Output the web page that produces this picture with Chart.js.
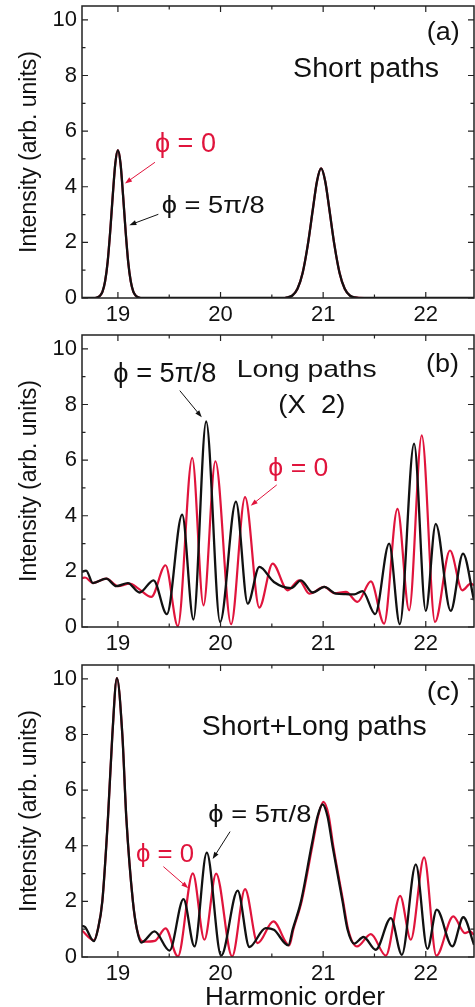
<!DOCTYPE html>
<html>
<head>
<meta charset="utf-8">
<script src="https://cdn.jsdelivr.net/npm/chart.js@4.4.1/dist/chart.umd.min.js"></script>
<style>
  html, body { margin: 0; padding: 0; background: #fff; overflow: hidden; }
  canvas { position: absolute; left: 0; }
</style>
</head>
<body>
<canvas id="panelA" width="475" height="329" style="top:0px"></canvas>
<canvas id="panelB" width="475" height="330" style="top:329px"></canvas>
<canvas id="panelC" width="475" height="348" style="top:659px"></canvas>
<script>
// Axis ranges and tick values (harmonic order / intensity)
const xRange = [18.65, 22.47];
const yRange = [0, 10.5];
const xTicks = [19, 20, 21, 22];
const xMinorTicks = [19.5, 20.5, 21.5];
const yTicks = [0, 2, 4, 6, 8, 10];
const yMinorTicks = [1, 3, 5, 7, 9];

// (a) short paths - both phases coincide
const shortX = [18.65, 18.75, 18.8, 18.825, 18.85, 18.875, 18.9, 18.925, 18.95, 18.975, 19.0, 19.025, 19.05, 19.075, 19.1, 19.125, 19.15, 19.175, 19.2, 19.25,
  20.0, 20.6, 20.65, 20.7, 20.75, 20.8, 20.85, 20.9, 20.94, 20.98, 21.02, 21.06, 21.11, 21.16, 21.21, 21.26, 21.31, 21.4, 22.47];
const shortY = [0, 0, 0.02, 0.08, 0.23, 0.6, 1.3, 2.4, 3.7, 4.85, 5.32, 4.85, 3.7, 2.4, 1.3, 0.6, 0.23, 0.08, 0.02, 0,
  0, 0, 0.02, 0.09, 0.33, 0.9, 1.9, 3.2, 4.2, 4.66, 4.2, 3.2, 1.9, 0.9, 0.33, 0.09, 0.02, 0, 0];

// (b) long paths (x2)
const longBlackX = [18.65, 18.69, 18.757, 18.887, 18.984, 19.097, 19.211, 19.347, 19.477, 19.626, 19.736, 19.86, 19.996, 20.15, 20.265, 20.378, 20.52, 20.687,
  20.784, 20.897, 21.011, 21.124, 21.22, 21.302, 21.383, 21.507, 21.643, 21.747, 21.886, 22.0, 22.097, 22.243, 22.363, 22.47];
const longBlackY = [1.98, 2.03, 1.58, 1.74, 1.47, 1.58, 1.24, 1.68, 0.46, 4.04, 0.27, 7.39, 0.18, 4.51, 0.84, 2.16, 1.62, 1.4,
  1.68, 1.24, 1.44, 1.2, 1.18, 1.17, 1.29, 0.46, 3.0, 0.1, 6.59, 0.58, 3.71, 0.58, 2.64, 0.96];
const longRedX = [18.65, 18.68, 18.757, 18.887, 19.0, 19.114, 19.2, 19.325, 19.464, 19.584, 19.724, 19.834, 19.95, 20.103, 20.239, 20.378, 20.508, 20.654,
  20.767, 20.865, 21.011, 21.108, 21.222, 21.335, 21.465, 21.594, 21.724, 21.838, 21.961, 22.09, 22.236, 22.356, 22.438, 22.47];
const longRedY = [1.76, 1.78, 1.58, 1.74, 1.47, 1.56, 1.38, 1.08, 2.22, 0.03, 6.08, 0.78, 5.96, 0.1, 4.67, 0.7, 2.28, 1.32,
  1.68, 1.2, 1.44, 1.22, 1.26, 0.9, 1.64, 0.12, 4.25, 0.6, 6.89, 0.18, 2.75, 1.32, 1.56, 1.5];

// (c) short + long paths
const mixBlackX = [18.65, 18.68, 18.765, 18.805, 18.848, 18.903, 18.946, 18.99, 19.043, 19.082, 19.146, 19.185, 19.228, 19.357, 19.503, 19.639, 19.746, 19.866,
  20.006, 20.167, 20.281, 20.44, 20.52, 20.66, 20.704, 20.784, 20.887, 20.945, 20.994, 21.043, 21.091, 21.189, 21.237, 21.303, 21.393, 21.513, 21.66, 21.767,
  21.903, 22.016, 22.107, 22.259, 22.366, 22.47];
const mixBlackY = [1.12, 1.08, 0.57, 1.0, 2.0, 5.0, 8.0, 10.03, 8.0, 5.0, 2.0, 1.0, 0.52, 0.92, 0.23, 2.08, 0.38, 3.75,
  0.05, 2.39, 0.36, 1.04, 0.98, 0.42, 1.0, 2.0, 4.0, 5.05, 5.49, 5.05, 4.0, 2.0, 1.0, 0.48, 0.72, 0.26, 1.4, 0.08,
  3.33, 0.29, 1.7, 0.38, 1.43, 0.44];
const mixRedX = [18.65, 18.765, 18.805, 18.848, 18.903, 18.946, 18.99, 19.043, 19.082, 19.146, 19.185, 19.25, 19.36, 19.464, 19.584, 19.73, 19.843, 19.957,
  20.113, 20.239, 20.362, 20.515, 20.67, 20.71, 20.79, 20.895, 20.953, 21.003, 21.053, 21.098, 21.195, 21.243, 21.33, 21.465, 21.611, 21.75, 21.854,
  21.984, 22.103, 22.268, 22.382, 22.43, 22.47];
const mixRedY = [0.95, 0.6, 1.0, 2.0, 5.0, 8.0, 10.03, 8.0, 5.0, 2.0, 1.0, 0.55, 0.58, 1.03, 0.02, 3.01, 0.62, 3.0,
  0.02, 2.44, 0.5, 1.28, 0.42, 1.0, 2.0, 4.0, 5.1, 5.58, 5.1, 4.0, 2.0, 1.0, 0.38, 0.82, 0.05, 2.2, 0.62,
  3.58, 0.05, 1.46, 0.86, 0.92, 0.8];

const RED = '#E0143C';
const INK = '#111111';
const FONT = "'Liberation Sans', Arial, Helvetica, sans-serif";

function pts(xs, ys) {
  return xs.map((x, i) => ({ x: x, y: ys[i] }));
}

// Closed frame with inward ticks on all four sides
const frameTicks = {
  id: 'frameTicks',
  afterDatasetsDraw(chart) {
    const { ctx, chartArea: a, scales: { x, y } } = chart;
    ctx.save();
    ctx.strokeStyle = '#222';
    ctx.lineWidth = 1.5;
    ctx.strokeRect(a.left, a.top, a.right - a.left, a.bottom - a.top);
    ctx.lineWidth = 1.2;
    ctx.beginPath();
    const vTick = (v, len) => {
      const px = x.getPixelForValue(v);
      ctx.moveTo(px, a.bottom); ctx.lineTo(px, a.bottom - len);
      ctx.moveTo(px, a.top); ctx.lineTo(px, a.top + len);
    };
    const hTick = (v, len) => {
      const py = y.getPixelForValue(v);
      ctx.moveTo(a.left, py); ctx.lineTo(a.left + len, py);
      ctx.moveTo(a.right, py); ctx.lineTo(a.right - len, py);
    };
    xTicks.forEach(v => vTick(v, 6));
    xMinorTicks.forEach(v => vTick(v, 3.5));
    yTicks.forEach(v => hTick(v, 6));
    yMinorTicks.forEach(v => hTick(v, 3.5));
    ctx.stroke();
    ctx.restore();
  }
};

// Labels and arrows placed in data coordinates
function notesPlugin(notes) {
  return {
    id: 'notes',
    afterDraw(chart) {
      const { ctx, scales: { x, y } } = chart;
      ctx.save();
      notes.forEach(n => {
        if (n.arrow) {
          const x0 = x.getPixelForValue(n.from[0]), y0 = y.getPixelForValue(n.from[1]);
          const x1 = x.getPixelForValue(n.to[0]), y1 = y.getPixelForValue(n.to[1]);
          const ang = Math.atan2(y1 - y0, x1 - x0);
          ctx.strokeStyle = n.color;
          ctx.fillStyle = n.color;
          ctx.lineWidth = 1;
          ctx.beginPath();
          ctx.moveTo(x0, y0);
          ctx.lineTo(x1 - 5 * Math.cos(ang), y1 - 5 * Math.sin(ang));
          ctx.stroke();
          ctx.beginPath();
          ctx.moveTo(x1, y1);
          ctx.lineTo(x1 - 7 * Math.cos(ang) + 2.5 * Math.sin(ang), y1 - 7 * Math.sin(ang) - 2.5 * Math.cos(ang));
          ctx.lineTo(x1 - 7 * Math.cos(ang) - 2.5 * Math.sin(ang), y1 - 7 * Math.sin(ang) + 2.5 * Math.cos(ang));
          ctx.closePath();
          ctx.fill();
          return;
        }
        ctx.font = n.size + 'px ' + FONT;
        ctx.fillStyle = n.color || INK;
        ctx.textAlign = 'left';
        ctx.textBaseline = 'alphabetic';
        const w = ctx.measureText(n.text).width;
        const sx = n.width ? n.width / w : 1;
        ctx.save();
        ctx.translate(x.getPixelForValue(n.x), y.getPixelForValue(n.y));
        ctx.scale(sx, 1);
        ctx.fillText(n.text, n.align === 'center' ? -w / 2 : 0, 0);
        ctx.restore();
      });
      ctx.restore();
    }
  };
}

function makePanel(id, black, red, notes, axisHeight) {
  return new Chart(document.getElementById(id), {
    type: 'line',
    data: {
      datasets: [
        { data: black, borderColor: INK, borderWidth: 2.3, pointRadius: 0, cubicInterpolationMode: 'monotone', fill: false },
        { data: red, borderColor: RED, borderWidth: 2.2, pointRadius: 0, cubicInterpolationMode: 'monotone', fill: false }
      ]
    },
    options: {
      responsive: false,
      animation: false,
      events: [],
      layout: { padding: { top: 6, right: 1, left: 0, bottom: 0 } },
      plugins: { legend: { display: false }, tooltip: { enabled: false } },
      scales: {
        x: {
          type: 'linear',
          min: xRange[0],
          max: xRange[1],
          grid: { display: false, drawTicks: false },
          border: { display: false },
          ticks: { stepSize: 1, autoSkip: false, maxRotation: 0, padding: 4, color: INK, font: { family: FONT, size: 22 } },
          afterBuildTicks: s => { s.ticks = xTicks.map(v => ({ value: v })); },
          afterFit: s => { s.height = axisHeight; s.paddingLeft = 0; s.paddingRight = 0; }
        },
        y: {
          type: 'linear',
          min: yRange[0],
          max: yRange[1],
          grid: { display: false, drawTicks: false },
          border: { display: false },
          ticks: { stepSize: 2, autoSkip: false, padding: 5, color: INK, font: { family: FONT, size: 22 } },
          title: { display: true, text: 'Intensity (arb. units)', color: INK, font: { family: FONT, size: 23 }, padding: { top: 16, bottom: 0 } },
          afterBuildTicks: s => { s.ticks = yTicks.map(v => ({ value: v })); },
          afterFit: s => { s.width = 82; s.paddingTop = 0; s.paddingBottom = 0; }
        }
      }
    },
    plugins: [frameTicks, notesPlugin(notes)]
  });
}

makePanel('panelA', pts(shortX, shortY), pts(shortX, shortY), [
  { text: '(a)', x: 22.17, y: 9.28, size: 26, width: 33, align: 'center' },
  { text: 'Short paths', x: 20.707, y: 7.94, size: 27, width: 146 },
  { text: 'ϕ = 0', x: 19.361, y: 5.26, size: 28, width: 61, color: RED },
  { arrow: true, from: [19.361, 4.88], to: [19.069, 4.12], color: RED },
  { text: 'ϕ = 5π/8', x: 19.427, y: 3.05, size: 24, width: 103 },
  { arrow: true, from: [19.394, 3.01], to: [19.111, 2.62], color: INK }
], 31);

makePanel('panelB', pts(longBlackX, longBlackY), pts(longRedX, longRedY), [
  { text: 'ϕ = 5π/8', x: 18.955, y: 8.82, size: 27, width: 103 },
  { arrow: true, from: [19.603, 8.5], to: [19.817, 7.54], color: INK },
  { text: 'Long paths', x: 20.158, y: 8.98, size: 24, width: 140 },
  { text: '(X  2)', x: 20.889, y: 7.68, size: 25, width: 67, align: 'center' },
  { text: '(b)', x: 22.164, y: 9.18, size: 26, width: 33, align: 'center' },
  { text: 'ϕ = 0', x: 20.466, y: 5.43, size: 25, width: 60, color: RED },
  { arrow: true, from: [20.548, 5.11], to: [20.294, 4.36], color: RED }
], 32);

makePanel('panelC', pts(mixBlackX, mixBlackY), pts(mixRedX, mixRedY), [
  { text: '(c)', x: 22.17, y: 9.24, size: 26, width: 33, align: 'center' },
  { text: 'Short+Long paths', x: 19.817, y: 7.98, size: 28, width: 225 },
  { text: 'ϕ = 5π/8', x: 19.881, y: 4.87, size: 24, width: 103 },
  { arrow: true, from: [20.093, 4.51], to: [19.923, 3.52], color: INK },
  { text: 'ϕ = 0', x: 19.176, y: 3.43, size: 26, width: 58, color: RED },
  { arrow: true, from: [19.443, 3.25], to: [19.686, 2.47], color: RED },
  { text: 'Harmonic order', x: 20.726, y: -1.74, size: 26, width: 180, align: 'center' }
], 50);
</script>
</body>
</html>
